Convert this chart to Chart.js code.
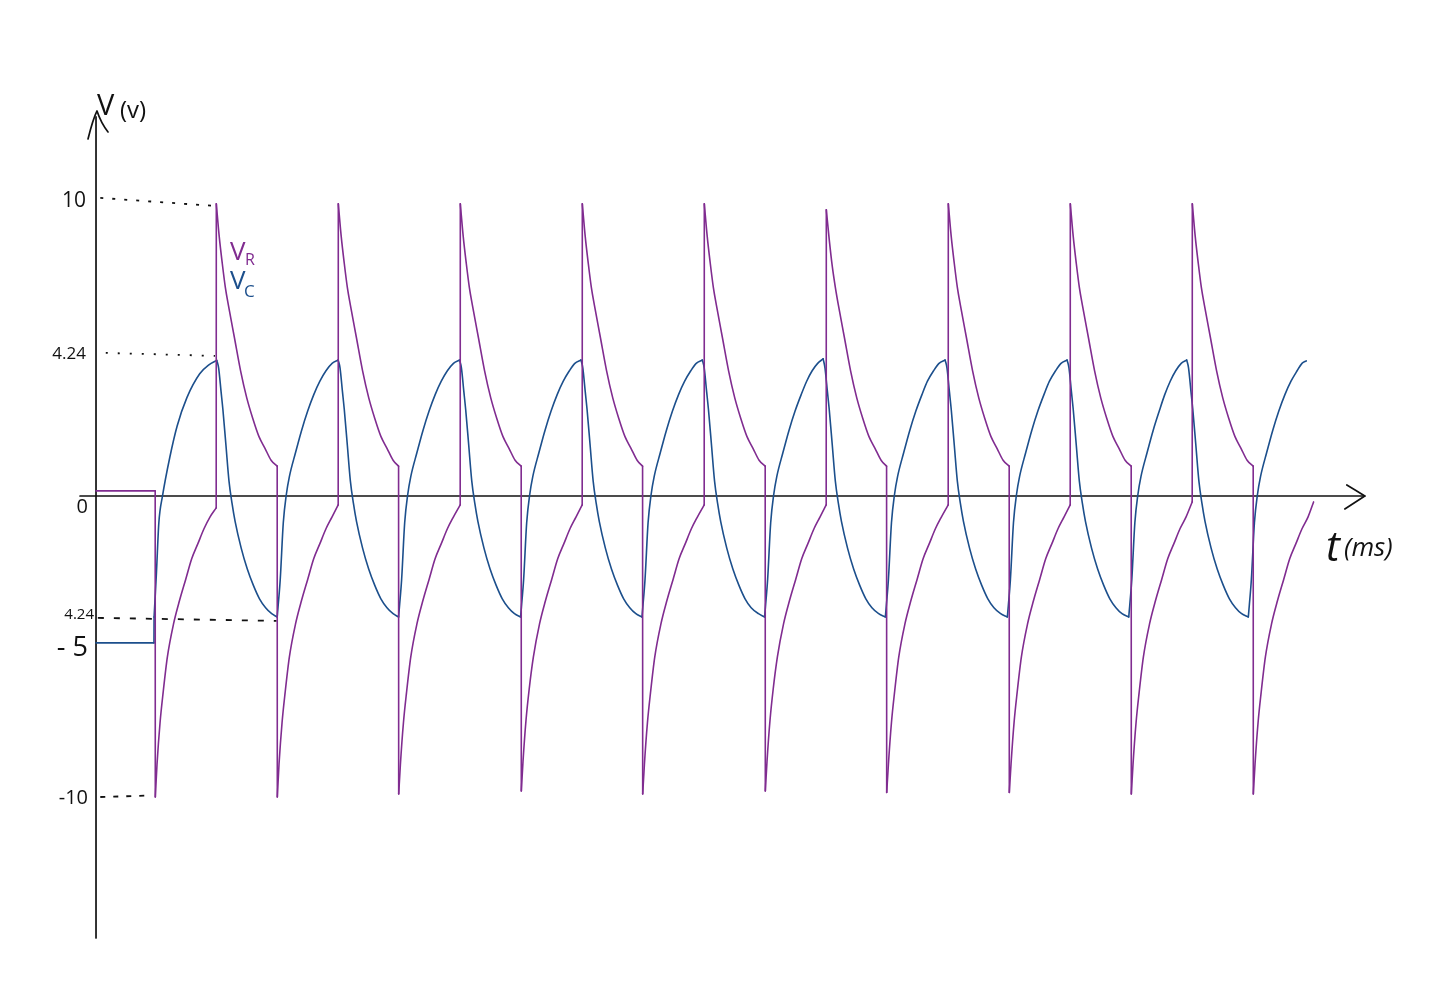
<!DOCTYPE html>
<html>
<head>
<meta charset="utf-8">
<title>V_R and V_C</title>
<script src="https://cdn.jsdelivr.net/npm/chart.js@4.4.1/dist/chart.umd.min.js"></script>
<style>
  html, body { margin: 0; padding: 0; background: #fff; }
  canvas { display: block; }
</style>
</head>
<body>
<canvas id="myChart" width="1434" height="1000"></canvas>
<script>
// time in ms, voltage in V
// V_R : resistor voltage (purple)
var vrPoints = [
  [0,0.17],[9.7,0.17],
  [9.72,-10.1],[10.0,-9.0],[10.5,-7.6],[11.0,-6.6],[11.7,-5.4],[12.7,-4.3],[13.7,-3.5],[14.7,-2.8],[15.7,-2.1],[16.7,-1.6],[17.7,-1.1],[18.7,-0.7],[19.7,-0.4],
  [19.72,9.8],[20.2,8.7],[20.7,7.8],[21.2,7.0],[21.7,6.4],[22.7,5.3],[23.7,4.2],[24.7,3.3],[25.7,2.6],[26.7,2.0],[27.7,1.6],[28.7,1.2],[29.7,1.0],
  [29.72,-10.1],[30.0,-9.0],[30.5,-7.6],[31.0,-6.6],[31.7,-5.4],[32.7,-4.3],[33.7,-3.5],[34.7,-2.8],[35.7,-2.1],[36.7,-1.6],[37.7,-1.1],[38.7,-0.7],[39.7,-0.3],
  [39.72,9.8],[40.2,8.7],[40.7,7.8],[41.2,7.0],[41.7,6.4],[42.7,5.3],[43.7,4.2],[44.7,3.3],[45.7,2.6],[46.7,2.0],[47.7,1.6],[48.7,1.2],[49.6,1.0],
  [49.62,-10.0],[49.9,-9.0],[50.4,-7.6],[50.9,-6.6],[51.6,-5.4],[52.6,-4.3],[53.6,-3.5],[54.6,-2.8],[55.6,-2.1],[56.6,-1.6],[57.6,-1.1],[58.6,-0.7],[59.7,-0.3],
  [59.72,9.8],[60.2,8.7],[60.7,7.8],[61.2,7.0],[61.7,6.4],[62.7,5.3],[63.7,4.2],[64.7,3.3],[65.7,2.6],[66.7,2.0],[67.7,1.6],[68.7,1.2],[69.7,1.0],
  [69.72,-9.9],[70.0,-8.9],[70.5,-7.5],[71.0,-6.5],[71.7,-5.4],[72.7,-4.3],[73.7,-3.5],[74.7,-2.8],[75.7,-2.1],[76.7,-1.6],[77.7,-1.1],[78.7,-0.7],[79.7,-0.3],
  [79.72,9.8],[80.2,8.7],[80.7,7.8],[81.2,7.0],[81.7,6.4],[82.7,5.3],[83.7,4.2],[84.7,3.3],[85.7,2.6],[86.7,2.0],[87.7,1.6],[88.7,1.2],[89.6,1.0],
  [89.62,-10.0],[89.9,-9.0],[90.4,-7.6],[90.9,-6.6],[91.6,-5.4],[92.6,-4.3],[93.6,-3.5],[94.6,-2.8],[95.6,-2.1],[96.6,-1.6],[97.6,-1.1],[98.6,-0.7],[99.7,-0.3],
  [99.72,9.8],[100.2,8.7],[100.7,7.8],[101.2,7.0],[101.7,6.4],[102.7,5.3],[103.7,4.2],[104.7,3.3],[105.7,2.6],[106.7,2.0],[107.7,1.6],[108.7,1.2],[109.7,1.0],
  [109.72,-9.9],[110.0,-8.9],[110.5,-7.5],[111.0,-6.5],[111.7,-5.4],[112.7,-4.3],[113.7,-3.5],[114.7,-2.8],[115.7,-2.1],[116.7,-1.6],[117.7,-1.1],[118.7,-0.7],[119.7,-0.3],
  [119.72,9.6],[120.2,8.6],[120.7,7.7],[121.2,7.0],[121.7,6.4],[122.7,5.3],[123.7,4.2],[124.7,3.3],[125.7,2.6],[126.7,2.0],[127.7,1.6],[128.7,1.2],[129.6,1.0],
  [129.62,-9.95],[129.9,-9.0],[130.4,-7.6],[130.9,-6.6],[131.6,-5.4],[132.6,-4.3],[133.6,-3.5],[134.6,-2.8],[135.6,-2.1],[136.6,-1.6],[137.6,-1.1],[138.6,-0.7],[139.7,-0.3],
  [139.72,9.8],[140.2,8.7],[140.7,7.8],[141.2,7.0],[141.7,6.4],[142.7,5.3],[143.7,4.2],[144.7,3.3],[145.7,2.6],[146.7,2.0],[147.7,1.6],[148.7,1.2],[149.7,1.0],
  [149.72,-9.95],[150.0,-9.0],[150.5,-7.6],[151.0,-6.6],[151.7,-5.4],[152.7,-4.3],[153.7,-3.5],[154.7,-2.8],[155.7,-2.1],[156.7,-1.6],[157.7,-1.1],[158.7,-0.7],[159.7,-0.3],
  [159.72,9.8],[160.2,8.7],[160.7,7.8],[161.2,7.0],[161.7,6.4],[162.7,5.3],[163.7,4.2],[164.7,3.3],[165.7,2.6],[166.7,2.0],[167.7,1.6],[168.7,1.2],[169.7,1.0],
  [169.72,-10.0],[170.0,-9.0],[170.5,-7.6],[171.0,-6.6],[171.7,-5.4],[172.7,-4.3],[173.7,-3.5],[174.7,-2.8],[175.7,-2.1],[176.7,-1.6],[177.7,-1.1],[178.7,-0.7],[179.7,-0.2],
  [179.72,9.8],[180.2,8.7],[180.7,7.8],[181.2,7.0],[181.7,6.4],[182.7,5.3],[183.7,4.2],[184.7,3.3],[185.7,2.6],[186.7,2.0],[187.7,1.6],[188.7,1.2],[189.7,1.0],
  [189.72,-10.0],[190.0,-9.0],[190.5,-7.6],[191.0,-6.6],[191.7,-5.4],[192.7,-4.3],[193.7,-3.5],[194.7,-2.8],[195.7,-2.1],[196.7,-1.6],[197.7,-1.1],[198.7,-0.7],[199.6,-0.2]
];

// V_C : capacitor voltage (blue)
var vcPoints = [
  [0,-4.93],[9.5,-4.93],[9.52,-4.06],[9.9,-2.6],[10.3,-0.9],[10.9,0.0],[12.1,1.3],[13.3,2.35],[14.9,3.3],[17.0,4.1],[18.5,4.4],[19.8,4.55],
  [20.1,4.3],[20.5,3.5],[20.8,2.9],[21.3,1.7],[21.8,0.5],[22.3,-0.25],[22.8,-0.85],[23.8,-1.75],[24.8,-2.45],[25.8,-3.0],[26.8,-3.45],[27.8,-3.75],[28.8,-3.95],[29.7,-4.06],
  [29.85,-3.7],[30.2,-2.8],[30.7,-0.9],[31.2,0.05],[31.7,0.65],[32.7,1.45],[33.7,2.2],[34.7,2.85],[35.7,3.4],[36.7,3.85],[37.7,4.2],[38.7,4.45],[39.7,4.56],
  [40.0,4.3],[40.4,3.5],[40.7,2.9],[41.2,1.7],[41.7,0.5],[42.2,-0.25],[42.7,-0.85],[43.7,-1.75],[44.7,-2.45],[45.7,-3.0],[46.7,-3.45],[47.7,-3.75],[48.7,-3.95],[49.6,-4.06],
  [49.75,-3.7],[50.1,-2.8],[50.6,-0.9],[51.1,0.05],[51.6,0.65],[52.6,1.45],[53.6,2.2],[54.6,2.85],[55.6,3.4],[56.6,3.85],[57.6,4.2],[58.6,4.45],[59.6,4.56],
  [59.9,4.3],[60.3,3.5],[60.6,2.9],[61.1,1.7],[61.6,0.5],[62.1,-0.25],[62.6,-0.85],[63.6,-1.75],[64.6,-2.45],[65.6,-3.0],[66.6,-3.45],[67.6,-3.75],[68.6,-3.95],[69.6,-4.06],
  [69.75,-3.7],[70.1,-2.8],[70.6,-0.9],[71.1,0.05],[71.6,0.65],[72.6,1.45],[73.6,2.2],[74.6,2.85],[75.6,3.4],[76.6,3.85],[77.6,4.2],[78.5,4.45],[79.5,4.56],
  [79.8,4.3],[80.2,3.5],[80.5,2.9],[81.0,1.7],[81.5,0.5],[82.0,-0.25],[82.5,-0.85],[83.5,-1.75],[84.5,-2.45],[85.5,-3.0],[86.5,-3.45],[87.5,-3.75],[88.5,-3.95],[89.5,-4.06],
  [89.65,-3.7],[90.0,-2.8],[90.5,-0.9],[91.0,0.05],[91.5,0.65],[92.5,1.45],[93.5,2.2],[94.5,2.85],[95.5,3.4],[96.5,3.85],[97.5,4.2],[98.4,4.45],[99.4,4.56],
  [99.7,4.3],[100.1,3.5],[100.4,2.9],[100.9,1.7],[101.4,0.5],[101.9,-0.25],[102.4,-0.85],[103.4,-1.75],[104.4,-2.45],[105.4,-3.0],[106.4,-3.45],[107.4,-3.75],[108.6,-3.95],[109.6,-4.06],
  [109.75,-3.7],[110.1,-2.8],[110.6,-0.9],[111.1,0.05],[111.6,0.65],[112.6,1.45],[113.6,2.2],[114.6,2.85],[115.6,3.4],[116.5,3.85],[117.4,4.2],[118.3,4.45],[119.2,4.6],
  [119.5,4.3],[119.9,3.5],[120.2,2.9],[120.7,1.7],[121.2,0.5],[121.7,-0.25],[122.2,-0.85],[123.2,-1.75],[124.2,-2.45],[125.2,-3.0],[126.2,-3.45],[127.2,-3.75],[128.3,-3.95],[129.4,-4.06],
  [129.55,-3.7],[129.9,-2.8],[130.4,-0.9],[130.9,0.05],[131.4,0.65],[132.4,1.45],[133.4,2.2],[134.4,2.85],[135.4,3.4],[136.3,3.85],[137.3,4.2],[138.2,4.45],[139.2,4.56],
  [139.5,4.3],[139.9,3.5],[140.2,2.9],[140.7,1.7],[141.2,0.5],[141.7,-0.25],[142.2,-0.85],[143.2,-1.75],[144.2,-2.45],[145.2,-3.0],[146.2,-3.45],[147.2,-3.75],[148.3,-3.95],[149.4,-4.06],
  [149.55,-3.7],[149.9,-2.8],[150.4,-0.9],[150.9,0.05],[151.4,0.65],[152.4,1.45],[153.4,2.2],[154.4,2.85],[155.4,3.4],[156.3,3.85],[157.3,4.2],[158.2,4.45],[159.2,4.56],
  [159.5,4.3],[159.9,3.5],[160.2,2.9],[160.7,1.7],[161.2,0.5],[161.7,-0.25],[162.2,-0.85],[163.2,-1.75],[164.2,-2.45],[165.2,-3.0],[166.2,-3.45],[167.2,-3.75],[168.2,-3.95],[169.3,-4.06],
  [169.45,-3.7],[169.8,-2.8],[170.3,-0.9],[170.8,0.05],[171.3,0.65],[172.3,1.45],[173.3,2.2],[174.3,2.85],[175.2,3.4],[176.1,3.85],[177.0,4.2],[177.9,4.45],[178.8,4.56],
  [179.1,4.3],[179.5,3.5],[179.8,2.9],[180.3,1.7],[180.8,0.5],[181.3,-0.25],[181.8,-0.85],[182.8,-1.75],[183.8,-2.45],[184.8,-3.0],[185.8,-3.45],[186.8,-3.75],[187.8,-3.95],[188.9,-4.06],
  [189.05,-3.7],[189.4,-2.8],[189.9,-0.9],[190.4,0.05],[190.9,0.65],[191.9,1.45],[192.9,2.2],[193.9,2.85],[194.9,3.4],[195.9,3.85],[196.9,4.2],[197.7,4.45],[198.4,4.53]
];

// dotted guide lines from the axis to the curves
var guide10 = [[0.7,10.0],[19.5,9.73]];
var guidePeak = [[1.6,4.8],[19.5,4.7]];
var guideTrough = [[0.3,-4.09],[29.6,-4.19]];
var guideMin = [[0.7,-10.1],[8.9,-10.05]];

// hand written tick labels on the V axis (value = where they sit)
var tickLabels = ["10", "4.24", "0", "4.24", "- 5", "-10"];
var tickValues = [9.9, 4.77, -0.37, -3.99, -5.1, -10.13];

// axis extents
var tAxis = [-2.62, 208.0];
var vAxis = [-14.83, 12.85];

var tickFont = [21, 17, 20, 15, 27, 20];
var tickRight = [86, 86, 88, 94, 88, 88];

function toXY(list) {
  return list.map(function (p) { return { x: p[0], y: p[1] }; });
}

// cut a trace into pieces that only rise, only fall, or jump,
// so the smoothing keeps the sharp corners of the sketch
function splitRuns(list) {
  var runs = [];
  var cur = [list[0]];
  var kind = null;
  for (var i = 1; i < list.length; i++) {
    var a = list[i - 1], b = list[i];
    var k = (b[0] - a[0] < 0.04) ? "jump" : Math.sign(b[1] - a[1]);
    if (kind !== null && k !== kind) {
      runs.push(cur);
      cur = [a];
    }
    cur.push(b);
    kind = k;
  }
  runs.push(cur);
  return runs;
}

var purple = "#802c90";
var blue = "#1c4f8c";
var ink = "#111111";
var hand = "'Open Sans', 'Liberation Sans', sans-serif";

function guideSet(list, dash) {
  return {
    data: toXY(list),
    showLine: true,
    borderColor: ink,
    borderWidth: 1.8,
    borderDash: dash,
    pointRadius: 0,
    fill: false
  };
}

function curveSets(label, list, colour) {
  return splitRuns(list).map(function (run) {
    return {
      label: label,
      data: toXY(run),
      showLine: true,
      borderColor: colour,
      borderWidth: 1.6,
      borderCapStyle: "round",
      pointRadius: 0,
      cubicInterpolationMode: "monotone",
      fill: false
    };
  });
}

var sketchAxes = {
  id: "sketchAxes",
  beforeDatasetsDraw: function (chart) {
    var ctx = chart.ctx;
    var x = chart.scales.x, y = chart.scales.y;
    var x0 = x.getPixelForValue(0), y0 = y.getPixelForValue(0);
    ctx.save();
    ctx.strokeStyle = ink;
    ctx.lineWidth = 1.7;
    ctx.lineCap = "round";
    ctx.lineJoin = "round";

    // vertical axis with arrow
    var top = y.getPixelForValue(vAxis[1]);
    ctx.beginPath();
    ctx.moveTo(x0, y.getPixelForValue(vAxis[0]));
    ctx.lineTo(x0, top + 4);
    ctx.stroke();
    ctx.beginPath();
    ctx.moveTo(x0 - 8, top + 26);
    ctx.quadraticCurveTo(x0 - 3, top + 6, x0 + 1, top - 2);
    ctx.quadraticCurveTo(x0 + 5, top + 10, x0 + 12, top + 19);
    ctx.stroke();

    // horizontal axis with arrow
    var right = x.getPixelForValue(tAxis[1]);
    ctx.beginPath();
    ctx.moveTo(x.getPixelForValue(tAxis[0]), y0);
    ctx.lineTo(right, y0);
    ctx.stroke();
    ctx.beginPath();
    ctx.moveTo(right - 18, y0 - 11);
    ctx.quadraticCurveTo(right - 8, y0 - 5, right, y0);
    ctx.lineTo(right - 20, y0 + 13);
    ctx.stroke();
    ctx.restore();
  },
  afterDatasetsDraw: function (chart) {
    var ctx = chart.ctx;
    var y = chart.scales.y;
    ctx.save();
    ctx.fillStyle = ink;
    ctx.textBaseline = "middle";
    ctx.textAlign = "right";
    for (var i = 0; i < tickLabels.length; i++) {
      ctx.font = tickFont[i] + "px " + hand;
      ctx.fillText(tickLabels[i], tickRight[i], y.getPixelForValue(tickValues[i]));
    }

    ctx.textAlign = "left";
    ctx.textBaseline = "alphabetic";
    // axis titles
    ctx.font = "29px " + hand;
    ctx.fillText("V", 97, 115);
    ctx.font = "24px " + hand;
    ctx.fillText("(v)", 120, 118);
    ctx.font = "italic 42px " + hand;
    ctx.fillText("t", 1326, 561);
    ctx.font = "italic 26px " + hand;
    ctx.fillText("(ms)", 1344, 556);

    // legend
    ctx.fillStyle = purple;
    ctx.font = "26px " + hand;
    ctx.fillText("V", 230, 260);
    ctx.font = "16px " + hand;
    ctx.fillText("R", 245, 265);
    ctx.fillStyle = blue;
    ctx.font = "26px " + hand;
    ctx.fillText("V", 230, 289);
    ctx.font = "17px " + hand;
    ctx.fillText("C", 244, 297);
    ctx.restore();
  }
};

var ctx = document.getElementById("myChart");
var myChart = new Chart(ctx, {
  type: "scatter",
  data: {
    datasets: curveSets("V_R", vrPoints, purple)
      .concat(curveSets("V_C", vcPoints, blue))
      .concat([
        guideSet(guide10, [3, 9]),
        guideSet(guidePeak, [2, 10]),
        guideSet(guideTrough, [6, 10]),
        guideSet(guideMin, [5, 8])
      ])
  },
  options: {
    responsive: false,
    animation: false,
    events: [],
    layout: { padding: 0 },
    plugins: { legend: { display: false }, tooltip: { enabled: false } },
    scales: {
      x: { type: "linear", display: false, min: -15.74, max: 219.34 },
      y: { type: "linear", display: false, min: -16.91, max: 16.64 }
    }
  },
  plugins: [sketchAxes]
});
</script>
</body>
</html>
